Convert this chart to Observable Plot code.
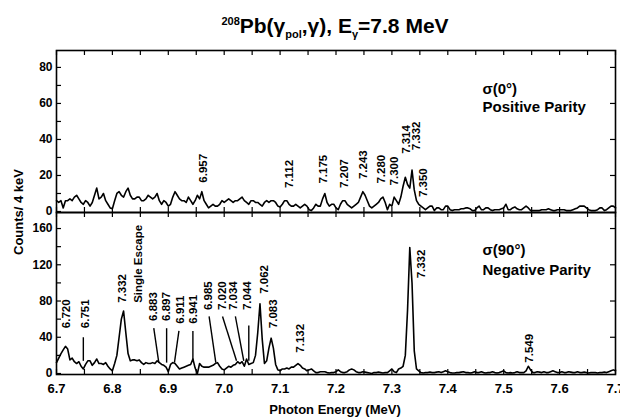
<!DOCTYPE html>
<html><head><meta charset="utf-8">
<script src="https://cdn.jsdelivr.net/npm/d3@7"></script>
<script src="https://cdn.jsdelivr.net/npm/@observablehq/plot@0.6"></script>
<style>
body{margin:0;background:#fff;font-family:"Liberation Sans",Arial,sans-serif;color:#000;}
#wrap{position:relative;width:620px;height:419px;overflow:hidden;background:#fff;}
#title{position:absolute;left:0;top:15px;width:620px;padding-left:50px;box-sizing:border-box;text-align:center;font-size:21px;line-height:21px;font-weight:bold;white-space:nowrap;}
#title .sup{font-size:11px;position:relative;top:-8px;}
#title .sub{font-size:11px;position:relative;top:5px;}
#ylab{position:absolute;left:18px;top:212px;transform:translate(-50%,-50%) rotate(-90deg);font-size:13px;font-weight:bold;white-space:nowrap;}
#xlab{position:absolute;left:335px;top:403px;transform:translateX(-50%);font-size:13px;line-height:13px;font-weight:bold;white-space:nowrap;}
.panel{position:absolute;left:0;}
</style></head>
<body>
<div id="wrap">
  <div id="title"><span class="sup">208</span>Pb(γ<span class="sub">pol</span>,γ), E<span class="sub">γ</span>=7.8 MeV</div>
  <div id="ylab">Counts/ 4 keV</div>
  <div id="xlab">Photon Energy (MeV)</div>
</div>
<script>
// ---- data: 4 keV bins starting at 6.700 MeV ----
const eStart = 6.7, binWidth = 0.004;

const countsTop = [
  6,5,6,2,6, 6,7,6,8,9, 7,5,4,6,5, 3,5,9,13,7, 8,10,6,4,2,          // 6.700-6.796
  1.5,6,10,11,9, 8,11,13,9,7, 7,8,8,6,6, 7,9,8,7,8, 10,6,4,6,5,      // 6.800-6.896
  3,4,8,11,9, 7,6,6,5,8, 6,4,6,9,7, 11,6,4,2,3, 4,3,3,4,6,           // 6.900-6.996
  5,6,7,6,5, 6,6,7,8,6, 5,4,6,6,5, 5,4,3,5,6, 5,6,6,5,3,             // 7.000-7.096
  2.5,4,6,6,4, 3,3,4,3,2, 3,4,3,1,0.5, 2,4,3,3,7, 10,5,3,4,4,        // 7.100-7.196
  2,1,4,6,6, 4,3,2,3,4, 5,8,11,9,6, 3,2,3,4,5, 7,8,5,1,4,            // 7.200-7.296
  3,8,6,4,8, 14,19,15,13,23, 12,6,4,3,2, 1,2,3,3,0.5, 2,2,1,1,3,     // 7.300-7.396
  3,1,0.5,1,1, 1,1.5,1.5,2,2, 1.5,0.5,0.5,2,3, 1,1,2,2,1, 0.5,1,1,1,1.5, // 7.400-7.496
  2,4,1,1,2, 2.5,1.5,1,1,2, 3,2,0.5,0.5,0.5, 0.5,0.5,1,1,1, 1.5,1,0.5,0.5,1, // 7.500-7.596
  1,1,1,0.5,0.5, 0.5,1,1.5,2,3, 3,3,2,1,0.5, 0.5,0.5,1,2,2, 0.5,1,2,3,3, 2  // 7.600-7.700
];

const countsBottom = [
  12,17,22,26,30, 27,15,17,13,11, 13,8,5,10,14, 14,9,12,16,11, 11,10,12,8,5,   // 6.700-6.796
  3,11,20,40,60, 69,45,22,14,15, 15,14,15,12,10, 12,11,11,12,11, 14,12,10,9,7,  // 6.800-6.896
  2,10,12,11,8, 5,6,7,8,9, 10,16,6,0,11, 8,7,7,7,8, 9,11,12,8,5,                // 6.900-6.996
  4,6,8,7,9, 10,13,11,13,8, 16,10,11,12,20, 45,77,38,11,14, 28,39,28,10,4,      // 7.000-7.096
  3,5,5,6,5, 7,7,9,11,9, 6,5,3,4,5, 3,1,1,2,2, 2,1,0.5,1,1,                     // 7.100-7.196
  2,4,2,1,1, 2,4,5,4,2, 1,1,2,1.5,1, 0.5,0,1,1,1.5, 1,0.5,1,1,3,                // 7.200-7.296
  5,2,1,5,6, 8,20,70,139,100, 25,5,3,1,0.5, 1,1,1.5,1,1, 1.5,2,1,2,3,           // 7.300-7.396
  2,1,0.5,0.5,1, 1,1.5,2,1,1, 0.5,1,2,1,1, 2,1,0.5,1,1, 2,1,0.5,1,2,            // 7.400-7.496
  3,1,0.5,1,0.5, 1,2,1,1,1, 3,8,4,1,1, 2,1.5,1,2,1, 1,2,3,2,1,                  // 7.500-7.596
  1,2,1,1,2, 1.5,1,1,2,1, 1,1.5,1,0.5,1, 1,1,0.5,1,1, 1.5,1,2,3,4, 3            // 7.600-7.700
];

// axis ticks
const xLabelTicks = [6.7,6.8,6.9,7.0,7.1,7.2,7.3,7.4,7.5,7.6,7.7];
const xMinorTicks = [6.75,6.85,6.95,7.05,7.15,7.25,7.35,7.45,7.55,7.65];
const yTopLabels = [0,20,40,60,80];
const yTopTicks = [0,10,20,30,40,50,60,70,80];
const yTopTicksRight = [20,40,60,80];
const yBotLabels = [0,40,80,120,160];
const yBotTicks = [0,20,40,60,80,100,120,140,160];
const yBotTicksRight = [40,80,120,160];

// peak labels, top panel (label text, anchor energy, anchor count)
const topPeakLabels = ["6.957","7.112","7.175","7.207","7.243","7.280","7.300","7.314","7.332","7.350"];
const topPeakX = [6.962,7.116,7.178,7.214,7.248,7.281,7.304,7.325,7.343,7.356];
const topPeakY = [16,13,15.5,13,18,15.5,14.5,32,34,8];

// peak labels, bottom panel
const botPeakLabels = ["6.720","6.751","7.332","Single Escape","6.883","6.897","6.911","6.941","6.985","7.020","7.034","7.044","7.062","7.083","7.132","7.332","7.549"];
const botPeakX = [6.718,6.752,6.818,6.847,6.874,6.897,6.922,6.944,6.972,6.997,7.017,7.042,7.071,7.087,7.137,7.352,7.546];
const botPeakY = [50,50,78,78,58,58,55,55,70,70,70,70,88,50,23,105,12];

// leader lines, bottom panel
const leadX1 = [6.748,6.874,6.897,6.919,6.944,6.973,6.997,7.020,7.044];
const leadY1 = [40,50,50,47,47,63,63,63,53];
const leadX2 = [6.748,6.883,6.897,6.911,6.944,6.985,7.022,7.035,7.044];
const leadY2 = [14,12,12,12,14,12,14,14,14];

// panel annotations
const topNotes = ["σ(0°)","Positive Parity"];
const topNoteY = [67.8,57.8];
const botNotes = ["σ(90°)","Negative Parity"];
const botNoteY = [135.8,113.7];
const noteX = 7.462;

// ---- build ----
const topRows = countsTop.map((c,i)=>({e: eStart + i*binWidth, c}));
const botRows = countsBottom.map((c,i)=>({e: eStart + i*binWidth, c}));
const allXTicks = xLabelTicks.concat(xMinorTicks);
const W = 620, ML = 56, MR = 5;
const innerW = W - ML - MR;
const FONT = "Liberation Sans, Arial, Helvetica, sans-serif";

function panel({rows, yDomain, yLabels, yTicks, yTicksR, height, marginTop, marginBottom, extra, showX}) {
  const innerH = height - marginTop - marginBottom;
  const marks = [
    Plot.tickX(allXTicks, {x: d=>d, insetTop: innerH - 5, strokeWidth: 1.2}),
    Plot.tickX(allXTicks, {x: d=>d, insetBottom: innerH - 5, strokeWidth: 1.2}),
    Plot.tickY(yTicks, {y: d=>d, insetRight: innerW - 5, strokeWidth: 1.2}),
    Plot.tickY(yTicksR, {y: d=>d, insetLeft: innerW - 5, strokeWidth: 1.2}),
    Plot.line(rows, {x: "e", y: "c", strokeWidth: 1.6, strokeLinejoin: "round"}),
    Plot.frame({strokeWidth: 1.6}),
    Plot.axisY({ticks: yLabels, tickSize: 0, tickPadding: 4, fontSize: 12, fontWeight: "bold", label: null, tickFormat: d=>String(d)}),
    ...extra
  ];
  if (showX) marks.push(Plot.axisX({ticks: xLabelTicks, tickSize: 0, tickPadding: 9, fontSize: 13, fontWeight: "bold", label: null, tickFormat: d=>d.toFixed(1)}));
  return Plot.plot({
    width: W, height, marginTop, marginBottom, marginLeft: ML, marginRight: MR,
    x: {domain: [6.7, 7.7], axis: showX ? undefined : null},
    y: {domain: yDomain},
    style: {background: "transparent", fontFamily: FONT, color: "black", overflow: "visible"},
    marks
  });
}

const topIdx = topPeakLabels.map((_,i)=>i);
const botIdx = botPeakLabels.map((_,i)=>i);
const leadIdx = leadX1.map((_,i)=>i);

const topPlot = panel({
  rows: topRows, yDomain: [-0.56, 89.4], yLabels: yTopLabels, yTicks: yTopTicks, yTicksR: yTopTicksRight,
  height: 166, marginTop: 2, marginBottom: 2, showX: false,
  extra: [
    Plot.text(topIdx, {x: i=>topPeakX[i], y: i=>topPeakY[i], text: i=>topPeakLabels[i], rotate: -90, textAnchor: "start", fontSize: 11.5, fontWeight: "bold"}),
    Plot.text(topNotes, {x: ()=>noteX, y: (d,i)=>topNoteY[i], text: d=>d, textAnchor: "start", fontSize: 15, fontWeight: "bold"})
  ]
});
const botPlot = panel({
  rows: botRows, yDomain: [-1.1, 177.7], yLabels: yBotLabels, yTicks: yBotTicks, yTicksR: yBotTicksRight,
  height: 209, marginTop: 2, marginBottom: 45, showX: true,
  extra: [
    Plot.link(leadIdx, {x1: i=>leadX1[i], y1: i=>leadY1[i], x2: i=>leadX2[i], y2: i=>leadY2[i], strokeWidth: 1.4}),
    Plot.text(botIdx, {x: i=>botPeakX[i], y: i=>botPeakY[i], text: i=>botPeakLabels[i], rotate: -90, textAnchor: "start", fontSize: 11.5, fontWeight: "bold"}),
    Plot.text(botNotes, {x: ()=>noteX, y: (d,i)=>botNoteY[i], text: d=>d, textAnchor: "start", fontSize: 15, fontWeight: "bold"})
  ]
});
topPlot.classList.add("panel"); topPlot.style.top = "48px";
botPlot.classList.add("panel"); botPlot.style.top = "210px";
const wrap = document.getElementById("wrap");
wrap.appendChild(topPlot);
wrap.appendChild(botPlot);
</script>
</body></html>
